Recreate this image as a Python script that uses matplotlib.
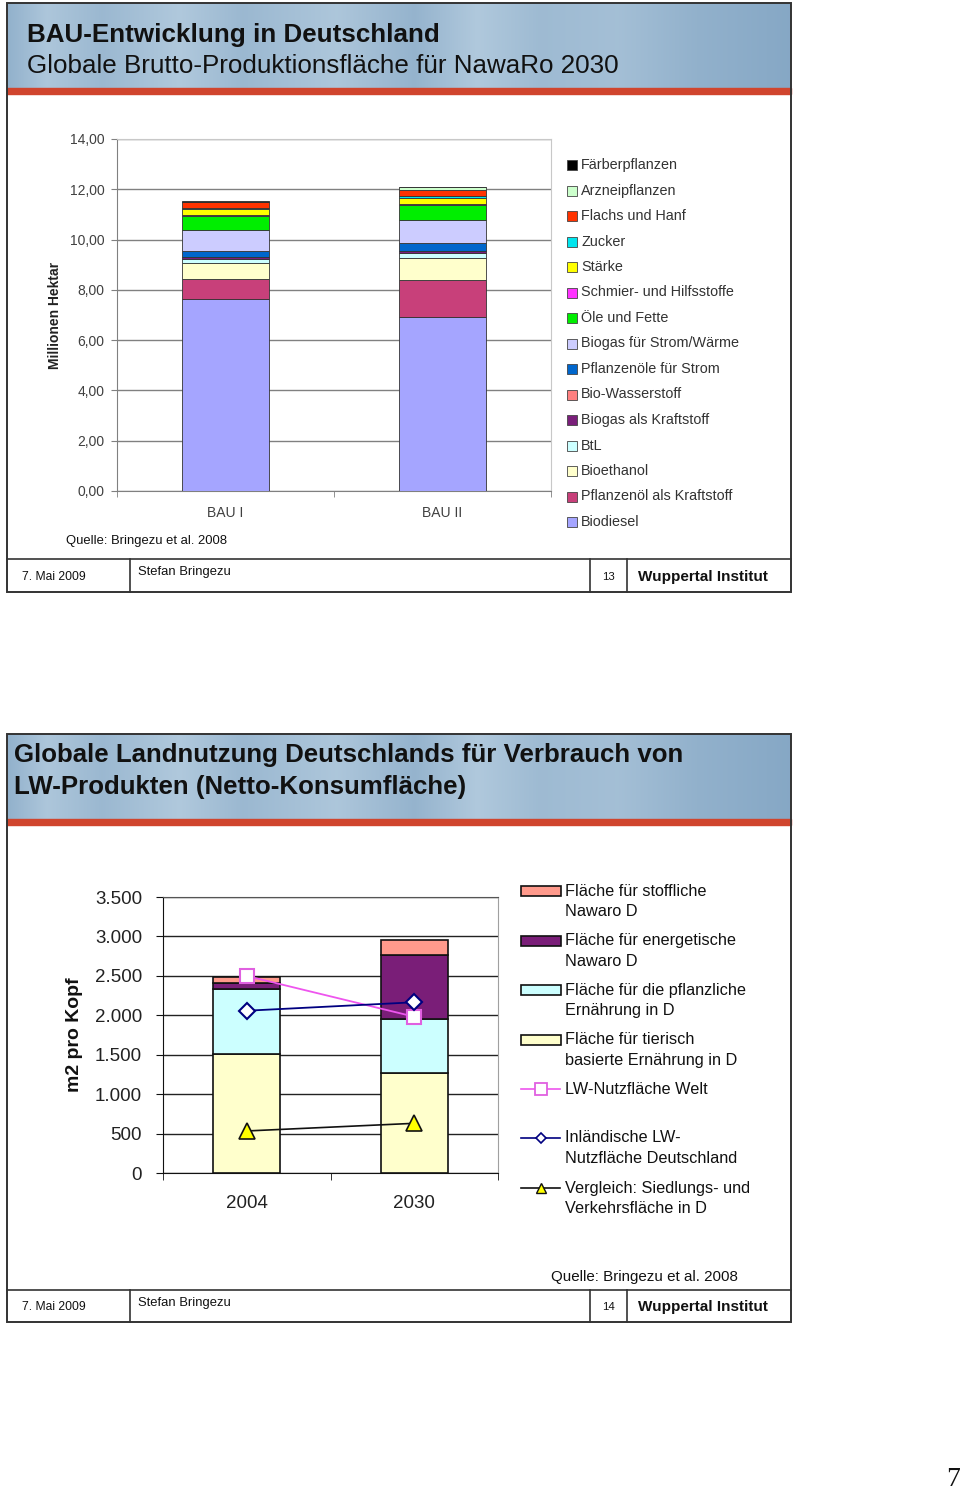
import matplotlib
matplotlib.use("Agg")
import matplotlib.pyplot as plt
import numpy as np
from matplotlib.patches import Rectangle
from matplotlib.lines import Line2D

plt.rcParams['font.family'] = ['Liberation Sans', 'DejaVu Sans']

# ---- data: top chart (Millionen Hektar), stacked bottom -> top
bau_categories = ['BAU I', 'BAU II']
nawaro_names = ['Biodiesel', 'Pflanzenöl als Kraftstoff', 'Bioethanol', 'BtL',
                'Biogas als Kraftstoff', 'Bio-Wasserstoff', 'Pflanzenöle für Strom',
                'Biogas für Strom/Wärme', 'Öle und Fette', 'Schmier- und Hilfsstoffe',
                'Stärke', 'Zucker', 'Flachs und Hanf', 'Arzneipflanzen', 'Färberpflanzen']
bau1 = [7.63, 0.81, 0.62, 0.17, 0.06, 0.00, 0.25, 0.84, 0.57, 0.02, 0.23, 0.05, 0.24, 0.02, 0.04]
bau2 = [6.91, 1.48, 0.86, 0.22, 0.07, 0.00, 0.31, 0.93, 0.58, 0.05, 0.23, 0.10, 0.25, 0.10, 0.02]
nawaro_colors = ['#A5A5FF', '#C8407A', '#FFFFCC', '#CCFFFF', '#7A1F7A', '#FF8080',
                 '#0066CC', '#CCCCFF', '#00EE00', '#FF33FF', '#FFFF00', '#00E5EE',
                 '#FF3300', '#CCFFCC', '#000000']

# ---- data: bottom chart (m2 pro Kopf)
years = ['2004', '2030']
tierisch = [1510, 1268]
pflanzlich = [824, 685]
energetisch = [80, 815]
stofflich = [76, 190]
lw_welt = [2498, 1982]
lw_inland = [2058, 2165]
siedlung = [533, 630]

W, H = 960, 1492
fig = plt.figure(figsize=(W / 100, H / 100), dpi=100)


def box(x0, y0, x1, y1):
    return [x0 / W, 1 - y1 / H, (x1 - x0) / W, (y1 - y0) / H]


bg = fig.add_axes([0, 0, 1, 1], zorder=0)
bg.set_xlim(0, W)
bg.set_ylim(H, 0)
bg.axis('off')

# header gradient (decoration)
gx = np.linspace(0, 1, 400)
knots = [0, 0.05, 0.12, 0.22, 0.3, 0.42, 0.52, 0.6, 0.68, 0.78, 0.88, 1.0]
tval = [0.3, 0.75, 0.45, 0.8, 0.45, 0.75, 0.35, 0.8, 0.5, 0.6, 0.3, 0.1]
t = np.interp(gx, knots, tval)
dark = np.array([128, 163, 194]) / 255
light = np.array([188, 210, 227]) / 255
grad = (dark[None, :] * (1 - t[:, None]) + light[None, :] * t[:, None])[None, :, :]


def panel(y0, y1, head_end, foot_y, page):
    bg.imshow(grad, extent=(7, 791, head_end, y0), aspect='auto', zorder=1)
    bg.add_patch(Rectangle((7, head_end), 784, 6, color='#D0452E', zorder=2))
    bg.add_patch(Rectangle((7, y0), 784, y1 - y0, fill=False, ec='#333333', lw=1.4, zorder=3))
    bg.plot([7, 791], [foot_y, foot_y], color='#333333', lw=1.2, zorder=3)
    for xv in (130, 590, 627):
        bg.plot([xv, xv], [foot_y, y1], color='#333333', lw=1.2, zorder=3)
    mid = (foot_y + y1) / 2
    bg.text(22, mid + 1, '7. Mai 2009', fontsize=8.7, va='center', color='#111111', zorder=4)
    bg.text(138, mid - 3, 'Stefan Bringezu', fontsize=9.4, va='center', color='#111111', zorder=4)
    bg.text(608, mid + 1, page, fontsize=8.2, va='center', ha='center', color='#111111', zorder=4)
    bg.text(638, mid + 1, 'Wuppertal Institut', fontsize=11, fontweight='bold', va='center',
            color='#111111', zorder=4)


panel(3, 592, 88, 559, '13')
panel(734, 1322, 819, 1290, '14')

bg.text(27, 35, 'BAU-Entwicklung in Deutschland', fontsize=18.7, fontweight='bold',
        va='center', color='#111111', zorder=5)
bg.text(27, 66, 'Globale Brutto-Produktionsfläche für NawaRo 2030', fontsize=18.7,
        va='center', color='#111111', zorder=5)
bg.text(14, 755, 'Globale Landnutzung Deutschlands für Verbrauch von', fontsize=18.6,
        fontweight='bold', va='center', color='#111111', zorder=5)
bg.text(14, 787, 'LW-Produkten (Netto-Konsumfläche)', fontsize=18.6,
        fontweight='bold', va='center', color='#111111', zorder=5)

bg.text(66, 541, 'Quelle: Bringezu et al. 2008', fontsize=9.4, va='center', color='#111111')
bg.text(551, 1277, 'Quelle: Bringezu et al. 2008', fontsize=10.9, va='center', color='#111111')
bg.text(953, 1480, '7', fontsize=20, family=['Liberation Serif', 'DejaVu Serif'],
        ha='center', va='center', color='#111111')

# ---- top chart
ax1 = fig.add_axes(box(117, 139, 551, 491), zorder=2)
x = np.arange(len(bau_categories))
bottom = np.zeros(len(bau_categories))
for name, v1, v2, col in zip(nawaro_names, bau1, bau2, nawaro_colors):
    vals = np.array([v1, v2])
    ax1.bar(x, vals, 0.4, bottom=bottom, color=col, edgecolor='#333333', linewidth=0.6,
            zorder=3, label=name)
    bottom += vals
ax1.set_xlim(-0.5, 1.5)
ax1.set_ylim(0, 14)
ax1.set_yticks(np.arange(0, 15, 2))
ax1.set_yticklabels([f'{v:.2f}'.replace('.', ',') for v in np.arange(0, 15, 2)])
ax1.set_xticks(x)
ax1.set_xticklabels(bau_categories)
ax1.set_xticks([-0.5, 0.5, 1.5], minor=True)
ax1.tick_params(axis='x', which='major', length=0, pad=11, labelsize=10, labelcolor='#404040')
ax1.tick_params(axis='x', which='minor', length=4, color='#808080')
ax1.tick_params(axis='y', length=4, color='#808080', labelsize=10, labelcolor='#404040', pad=5)
ax1.grid(axis='y', color='#808080', linewidth=1, zorder=0)
for s in ('left', 'bottom'):
    ax1.spines[s].set_color('#808080')
for s in ('top', 'right'):
    ax1.spines[s].set_color('#C8C8C8')
ax1.set_ylabel('Millionen Hektar', fontsize=10, fontweight='bold', color='#222222')
ax1.yaxis.set_label_coords(-0.127, 0.5)

# top legend, Färberpflanzen first
for i, (name, col) in enumerate(zip(nawaro_names[::-1], nawaro_colors[::-1])):
    yy = 165 + i * 25.5
    bg.add_patch(Rectangle((567, yy - 5), 10, 10, fc=col, ec='#444444', lw=0.6))
    bg.text(581, yy, name, fontsize=10.4, va='center', color='#333333')

# ---- bottom chart
ax2 = fig.add_axes(box(163, 897, 498, 1173), zorder=2)
xb = np.arange(len(years))
stack = [(tierisch, '#FFFFCC'), (pflanzlich, '#CCFFFF'), (energetisch, '#7A1E78'),
         (stofflich, '#FF9A8C')]
base = np.zeros(len(years))
for vals, col in stack:
    ax2.bar(xb, vals, 0.4, bottom=base, color=col, edgecolor='#111111', linewidth=1.2, zorder=3)
    base += np.array(vals)
ax2.plot(xb, lw_welt, color='#EE55EE', lw=1.3, marker='s', ms=10, mfc='white',
         mec='#E060E0', mew=1.5, zorder=5)
ax2.plot(xb, lw_inland, color='#000080', lw=1.3, marker='D', ms=8, mfc='white',
         mec='#000080', mew=1.5, zorder=5)
ax2.plot(xb, siedlung, color='#111111', lw=1.2, marker='^', ms=12, mfc='#FFFF00',
         mec='#111111', mew=1.2, zorder=5)
ax2.set_xlim(-0.5, 1.5)
ax2.set_ylim(0, 3500)
yt = np.arange(0, 3501, 500)
ax2.set_yticks(yt)
ax2.set_yticklabels([f'{v:,.0f}'.replace(',', '.') for v in yt])
ax2.set_xticks(xb)
ax2.set_xticklabels(years)
ax2.set_xticks([-0.5, 0.5, 1.5], minor=True)
ax2.tick_params(axis='x', which='major', length=0, pad=16, labelsize=13.5, labelcolor='#222222')
ax2.tick_params(axis='x', which='minor', length=5, color='#111111')
ax2.tick_params(axis='y', length=5, color='#111111', labelsize=13.5, labelcolor='#222222', pad=10)
ax2.grid(axis='y', color='#222222', linewidth=1, zorder=0)
for s in ('left', 'bottom'):
    ax2.spines[s].set_color('#111111')
ax2.spines['top'].set_color('#555555')
ax2.spines['right'].set_color('#A0A0A0')
ax2.set_ylabel('m2 pro Kopf', fontsize=14, fontweight='bold', color='#111111')
ax2.yaxis.set_label_coords(-0.239, 0.5)

# bottom legend
leg_items = [
    ('patch', '#FF9A8C', ['Fläche für stoffliche', 'Nawaro D'], 891),
    ('patch', '#7A1E78', ['Fläche für energetische', 'Nawaro D'], 941),
    ('patch', '#CCFFFF', ['Fläche für die pflanzliche', 'Ernährung in D'], 990),
    ('patch', '#FFFFCC', ['Fläche für tierisch', 'basierte Ernährung in D'], 1040),
    ('welt', None, ['LW-Nutzfläche Welt'], 1089),
    ('inland', None, ['Inländische LW-', 'Nutzfläche Deutschland'], 1138),
    ('siedl', None, ['Vergleich: Siedlungs- und', 'Verkehrsfläche in D'], 1188),
]
line_colors = {'welt': '#EE55EE', 'inland': '#000080', 'siedl': '#111111'}
marker_styles = {
    'welt': dict(marker='s', ms=8, mfc='white', mec='#E060E0', mew=1.3),
    'inland': dict(marker='D', ms=5, mfc='white', mec='#000080', mew=1.2),
    'siedl': dict(marker='^', ms=7, mfc='#FFFF00', mec='#111111', mew=1),
}
for kind, col, lines, y0 in leg_items:
    if kind == 'patch':
        bg.add_patch(Rectangle((521, y0 - 5), 40, 10, fc=col, ec='#111111', lw=1.2))
    else:
        bg.add_line(Line2D([521, 560], [y0, y0], lw=1.2, color=line_colors[kind]))
        bg.add_line(Line2D([540.5], [y0], lw=0, **marker_styles[kind]))
    for j, txt in enumerate(lines):
        bg.text(565, y0 + j * 20.5, txt, fontsize=11.7, va='center', color='#111111')

fig.savefig('out.png', dpi=100)
